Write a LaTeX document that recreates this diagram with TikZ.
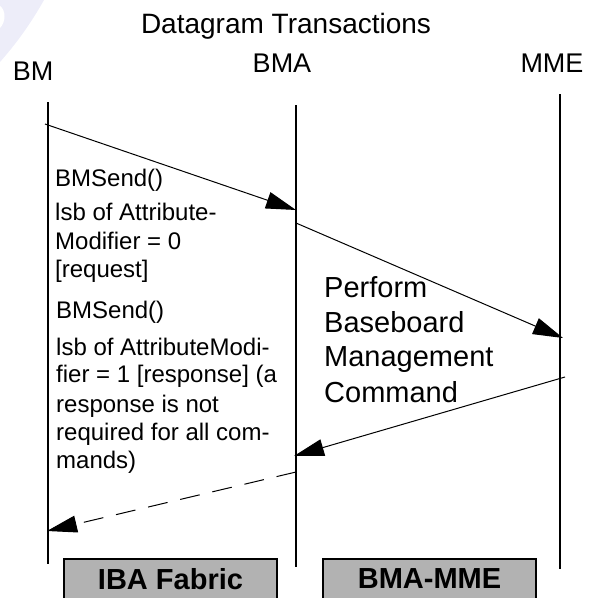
\documentclass[tikz,border=0pt]{standalone}
\usepackage{fontspec}
\setmainfont{Liberation Sans}
\usetikzlibrary{arrows.meta}
\definecolor{wm}{HTML}{EDEDF9}
\definecolor{boxgray}{HTML}{B2B2B2}
\tikzset{
  lifeline/.style={line width=2pt},
  msg/.style={line width=1pt,-{Triangle[length=30pt,width=17pt]}},
  msgdash/.style={msg,dash pattern=on 20pt off 13pt},
  lbl/.style={inner sep=0pt,anchor=base west,font=\fontsize{24}{28}\selectfont},
  big/.style={inner sep=0pt,anchor=base west,font=\fontsize{29}{35}\selectfont},
  head/.style={inner sep=0pt,anchor=base,font=\fontsize{27}{32}\selectfont},
  phase/.style={draw,line width=2pt,fill=boxgray,minimum width=213pt,minimum height=40pt,inner sep=0pt,font=\bfseries\fontsize{29}{34}\selectfont}
}
\begin{document}
\begin{tikzpicture}[x=1pt,y=-1pt]
\useasboundingbox (0,0) rectangle (589,598);
% faint watermark
\fill[wm] (0,0) -- (44,0) .. controls (30,25) and (15,45) .. (0,62) -- cycle;
\fill[white] (0,6) .. controls (6,10) and (6,22) .. (0,28) -- cycle;
% title and heads
\node[inner sep=0pt,anchor=base,font=\fontsize{28}{33}\selectfont] (title) at (286,33) {Datagram Transactions};
\node[head] (hbm) at (33,80) {BM};
\node[head] (hbma) at (282,72) {BMA};
\node[head] (hmme) at (552,72) {MME};
% lifelines
\coordinate (bmT) at (48,102); \coordinate (bmB) at (48,564);
\coordinate (bmaT) at (296,105); \coordinate (bmaB) at (296,567);
\coordinate (mmeT) at (560,94); \coordinate (mmeB) at (560,569);
\draw[lifeline] (bmT) -- (bmB);
\draw[lifeline] (bmaT) -- (bmaB);
\draw[lifeline] (mmeT) -- (mmeB);
% messages
\coordinate (m1s) at (45,124); \coordinate (m1e) at (296,210);
\coordinate (m2s) at (296,223); \coordinate (m2e) at (563,338);
\coordinate (m3s) at (565,377); \coordinate (m3e) at (294,456);
\coordinate (m4s) at (296,472); \coordinate (m4e) at (47,531);
\draw[msg] (m1s) -- (m1e);
\draw[msg] (m2s) -- (m2e);
\draw[msg] (m3s) -- (m3e);
\draw[msgdash] (m4s) -- (m4e);
% left texts
\node[lbl] (t1) at (55,186) {BMSend()};
\node[lbl] (t2) at (55,220) {lsb of Attribute-};
\node[lbl] (t3) at (55,249) {Modifier = 0};
\node[lbl] (t4) at (55,277) {[request]};
\node[lbl] (t5) at (56,318) {BMSend()};
\node[lbl] (t6) at (56,355) {lsb of AttributeModi-};
\node[lbl] (t7) at (56,382) {fier = 1 [response] (a};
\node[lbl] (t8) at (56,412) {response is not};
\node[lbl] (t9) at (56,440) {required for all com-};
\node[lbl] (t10) at (56,468) {mands)};
% right texts
\node[big] (r1) at (324,297) {Perform};
\node[big] (r2) at (324,332) {Baseboard};
\node[big] (r3) at (324,366) {Management};
\node[big] (r4) at (324,402) {Command};
% phase boxes
\node[phase] (iba) at (170.5,579) {IBA Fabric};
\node[phase] (bmamme) at (429.5,579) {BMA-MME};
\end{tikzpicture}
\end{document}
